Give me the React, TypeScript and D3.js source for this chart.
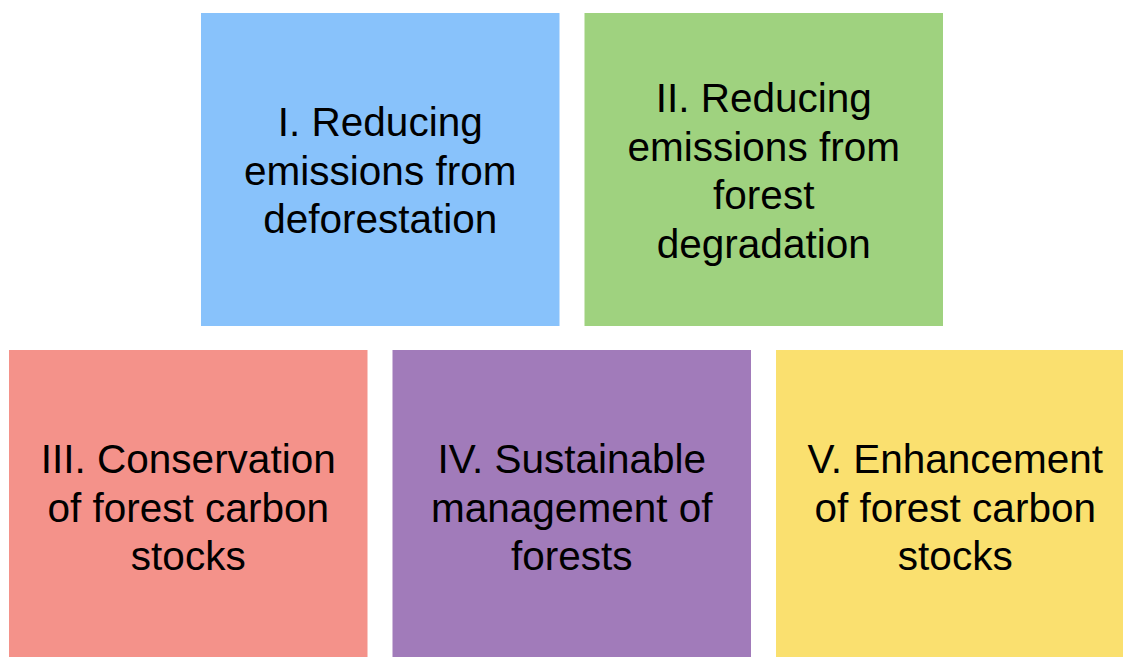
import React, {useEffect, useRef} from 'react';
import * as d3 from 'd3';

// REDD+ activities, split in two rows
const topRow = ['I', 'II'];
const bottomRow = ['III', 'IV', 'V'];
const labels: Record<string, string[]> = {
  I: ['I. Reducing', 'emissions from', 'deforestation'],
  II: ['II. Reducing', 'emissions from', 'forest', 'degradation'],
  III: ['III. Conservation', 'of forest carbon', 'stocks'],
  IV: ['IV. Sustainable', 'management of', 'forests'],
  V: ['V. Enhancement', 'of forest carbon', 'stocks'],
};
const colors: Record<string, string> = {
  I: '#88c2fb',
  II: '#9fd27f',
  III: '#f4928a',
  IV: '#a17bba',
  V: '#fae06f',
};

const App: React.FC = () => {
  const svgRef = useRef<SVGSVGElement>(null);

  useEffect(() => {
    const width = 1123;
    const height = 657;
    const svg = d3.select(svgRef.current);
    svg.selectAll('*').remove();

    // rows (bottom row runs off the page)
    const y = d3.scaleBand().domain(['top', 'bottom']).range([13, 663]).paddingInner(24 / 337);
    // columns for each row
    const xTop = d3.scaleBand().domain(topRow).range([201, 943]).paddingInner(25 / 383.5);
    const xBottom = d3.scaleBand().domain(bottomRow).range([9, 1134.5]).paddingInner(25 / 383.5);

    const fontSize = 40.5;
    const lineHeight = 48.5;

    const drawRow = (keys: string[], x: d3.ScaleBand<string>, row: string) => {
      const g = svg
        .selectAll('g.' + row)
        .data(keys)
        .enter()
        .append('g')
        .attr('class', row)
        .attr('transform', (d) => 'translate(' + x(d) + ',' + y(row) + ')');

      g.append('rect')
        .attr('width', x.bandwidth())
        .attr('height', y.bandwidth())
        .attr('fill', (d) => colors[d]);

      g.each(function (d) {
        const lines = labels[d];
        const cy = y.bandwidth() / 2 + 1;
        d3.select(this)
          .selectAll('text')
          .data(lines)
          .enter()
          .append('text')
          .attr('x', x.bandwidth() / 2)
          .attr('y', (_l, i) => cy + (i - (lines.length - 1) / 2) * lineHeight + fontSize * 0.355)
          .attr('text-anchor', 'middle')
          .attr('font-family', '"Liberation Sans", Arial, sans-serif')
          .attr('font-size', fontSize)
          .attr('fill', '#000')
          .text((l) => l);
      });
    };

    svg.attr('width', width).attr('height', height);
    drawRow(topRow, xTop, 'top');
    drawRow(bottomRow, xBottom, 'bottom');
  }, []);

  return (
    <div style={{position: 'absolute', left: 0, top: 0, width: 1123, height: 657, background: '#fff', overflow: 'hidden'}}>
      <svg ref={svgRef} style={{display: 'block'}}></svg>
    </div>
  );
};

export default App;
